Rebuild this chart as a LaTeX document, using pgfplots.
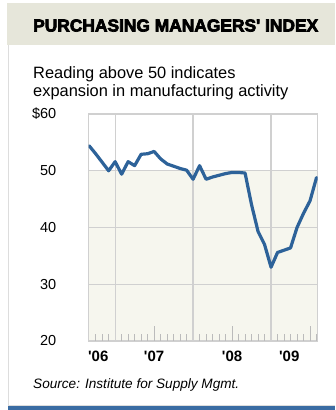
\documentclass[border=0pt]{standalone}
\usepackage{pgfplots}
\pgfplotsset{compat=1.18}
\usepackage{fontspec}
\setmainfont{Liberation Sans}
\newfontfamily\titlefont[FakeBold=4]{Liberation Sans Bold}
\definecolor{bandc}{HTML}{E6E6DA}
\definecolor{creamc}{HTML}{F6F6EE}
\definecolor{gridc}{HTML}{D0D0D0}
\definecolor{tickc}{HTML}{BBBBBB}
\definecolor{linec}{HTML}{2D6299}
\definecolor{rulec}{HTML}{3A6CA3}
\definecolor{framec}{HTML}{DDDDDD}

\begin{document}
\begin{tikzpicture}[x=1pt,y=1pt]
\useasboundingbox (0,0) rectangle (335,410);
% header band and frame
\fill[bandc] (7,365) rectangle (335,407);
\draw[framec, line width=1pt] (8,5) -- (8,365);
\draw[framec, line width=1pt] (8,4.5) -- (335,4.5);
\fill[rulec] (8,0) rectangle (335,3.6);
\node[anchor=base west, inner sep=0pt] at (33,378.5)
  {\resizebox{285pt}{!}{\titlefont\fontsize{16.5}{16.5}\selectfont PURCHASING MANAGERS\textquotesingle{} INDEX}};
\node[anchor=base west, inner sep=0pt] at (33,331.5)
  {\fontsize{16.4}{18}\selectfont Reading above 50 indicates};
\node[anchor=base west, inner sep=0pt] at (33,313)
  {\fontsize{16.4}{18}\selectfont expansion in manufacturing activity};
\node[anchor=base west, inner sep=0pt] at (33,21.5)
  {\fontsize{13.6}{14}\selectfont\itshape Source: Institute for Supply Mgmt.};
% shaded band below the 50 line
\fill[creamc] (88.5,69) rectangle (317.5,239.25);
\begin{axis}[
  at={(88.5pt,69pt)}, anchor=south west,
  scale only axis, width=229pt, height=227pt,
  xmin=-0.1, xmax=35.15, ymin=20, ymax=60,
  axis line style={draw=gridc, line width=1.2pt},
  ytick={20,30,40,50,60},
  yticklabels={20,30,40,50,\llap{\$}60},
  ymajorgrids,
  grid style={gridc, line width=1.2pt},
  major tick length=0pt,
  tick align=inside,
  xtick pos=bottom, ytick pos=left,
  yticklabel style={anchor=east, inner sep=0pt, xshift=-32pt,
    font=\fontsize{14.5}{14.5}\selectfont},
  xtick={1.4,10,22,30.8},
  xticklabels={\textquotesingle06,\textquotesingle07,\textquotesingle08,\textquotesingle09},
  xticklabel style={anchor=north, inner sep=0pt, yshift=-10pt,
    font=\bfseries\fontsize{15}{15}\selectfont},
]
% year boundaries
\foreach \m in {4,16,28} {
  \edef\tmp{\noexpand\draw[gridc, line width=1.2pt] (axis cs:\m,20) -- (axis cs:\m,60);}
  \tmp
}
% monthly ticks
\foreach \m in {1,2,3,5,6,7,8,9,11,12,13,14,15,17,18,19,20,21,23,24,25,26,27,29,30,31,32,33,35} {
  \edef\tmp{\noexpand\draw[tickc, line width=0.9pt] (axis cs:\m,20) -- (axis cs:\m,21.25);}
  \tmp
}
% mid-year ticks
\foreach \m in {10,22,34} {
  \edef\tmp{\noexpand\draw[tickc, line width=0.9pt] (axis cs:\m,20) -- (axis cs:\m,22.65);}
  \tmp
}
\addplot[linec, line width=3.2pt, line join=round, line cap=round] coordinates {
  (0,54.4) (1,53.0) (2,51.5) (3,50.0) (4,51.6) (5,49.4) (6,51.6) (7,50.9)
  (8,52.9) (9,53.0) (10,53.4) (11,52.1) (12,51.2) (13,50.8) (14,50.4) (15,50.1)
  (16,48.5) (17,50.9) (18,48.5) (19,48.9) (20,49.2) (21,49.5) (22,49.7) (23,49.7)
  (24,49.6) (25,44.0) (26,39.3) (27,37.0) (28,33.0) (29,35.6) (30,36.0) (31,36.4)
  (32,40.0) (33,42.5) (34,44.7) (35,48.8)
};
\end{axis}
\end{tikzpicture}
\end{document}
